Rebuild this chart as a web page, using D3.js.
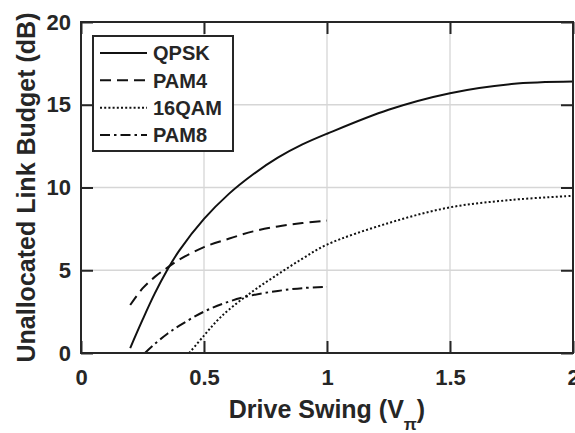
<!DOCTYPE html>
<html><head><meta charset="utf-8">
<script src="https://cdn.jsdelivr.net/npm/d3@7/dist/d3.min.js"></script>
<style>
body{margin:0;background:#fff}
svg{display:block}
text{font-family:"Liberation Sans",Arial,sans-serif;font-weight:bold;fill:#262626}
</style>
</head><body>
<svg id="c" width="575" height="433"></svg>
<script>
// ---- data ----
const xTicks = [0, 0.5, 1, 1.5, 2];
const yTicks = [0, 5, 10, 15, 20];
const seriesNames = ["QPSK", "PAM4", "16QAM", "PAM8"];

const qpskX = [0.2, 0.25, 0.3, 0.35, 0.4, 0.5, 0.6, 0.7, 0.8, 0.9, 1.0, 1.25, 1.5, 1.75, 2.0];
const qpskY = [0.3, 2.0, 3.6, 5.0, 6.2, 8.1, 9.6, 10.8, 11.8, 12.6, 13.25, 14.7, 15.7, 16.25, 16.4];

const pam4X = [0.2, 0.25, 0.3, 0.35, 0.4, 0.5, 0.6, 0.7, 0.8, 0.9, 1.0];
const pam4Y = [2.9, 3.9, 4.6, 5.15, 5.65, 6.4, 6.9, 7.35, 7.65, 7.85, 8.0];

const qam16X = [0.44, 0.5, 0.55, 0.6, 0.7, 0.8, 0.9, 1.0, 1.25, 1.5, 1.75, 2.0];
const qam16Y = [0.0, 1.05, 1.9, 2.6, 3.75, 4.75, 5.7, 6.55, 7.85, 8.8, 9.25, 9.5];

const pam8X = [0.26, 0.3, 0.35, 0.4, 0.5, 0.6, 0.7, 0.8, 0.9, 1.0];
const pam8Y = [0.0, 0.55, 1.15, 1.65, 2.5, 3.1, 3.5, 3.75, 3.92, 4.0];

// ---- layout ----
const svg = d3.select("#c");
const L = 81, R = 573, T = 22, B = 353;
const x = d3.scaleLinear().domain([0, 2]).range([L, R]);
const y = d3.scaleLinear().domain([0, 20]).range([B, T]);
const ink = "#262626";

// grid
svg.append("g").selectAll("line").data(xTicks).join("line")
  .attr("x1", d => x(d)).attr("x2", d => x(d)).attr("y1", T).attr("y2", B)
  .attr("stroke", "#d6d6d6").attr("stroke-width", 1.3);
svg.append("g").selectAll("line").data(yTicks).join("line")
  .attr("y1", d => y(d)).attr("y2", d => y(d)).attr("x1", L).attr("x2", R)
  .attr("stroke", "#d6d6d6").attr("stroke-width", 1.3);

// series
const series = [
  {name: seriesNames[0], xs: qpskX, ys: qpskY, dash: null},
  {name: seriesNames[1], xs: pam4X, ys: pam4Y, dash: "11,6"},
  {name: seriesNames[2], xs: qam16X, ys: qam16Y, dash: "2,2.2"},
  {name: seriesNames[3], xs: pam8X, ys: pam8Y, dash: "10,4,2.5,4"}
];
const line = d3.line().x(d => x(d[0])).y(d => y(d[1])).curve(d3.curveCatmullRom.alpha(0.5));
series.forEach(s => {
  svg.append("path")
    .datum(s.xs.map((v, i) => [v, s.ys[i]]))
    .attr("d", line)
    .attr("fill", "none").attr("stroke", "#111")
    .attr("stroke-width", 2)
    .attr("stroke-dasharray", s.dash);
});

// axes
const fmt = d3.format("~g");
const gx = svg.append("g").attr("transform", `translate(0,${B})`)
  .call(d3.axisBottom(x).tickValues(xTicks).tickSizeInner(-12).tickSizeOuter(0).tickPadding(16).tickFormat(fmt));
const gy = svg.append("g").attr("transform", `translate(${L},0)`)
  .call(d3.axisLeft(y).tickValues(yTicks).tickSizeInner(-12).tickSizeOuter(0).tickPadding(10).tickFormat(fmt));
const gt = svg.append("g").attr("transform", `translate(0,${T})`)
  .call(d3.axisTop(x).tickValues(xTicks).tickSizeInner(-12).tickSizeOuter(0).tickFormat(""));
const gr = svg.append("g").attr("transform", `translate(${R},0)`)
  .call(d3.axisRight(y).tickValues(yTicks).tickSizeInner(-12).tickSizeOuter(0).tickFormat(""));
[gx, gy, gt, gr].forEach(g => {
  g.select(".domain").remove();
  g.selectAll(".tick line").attr("stroke", ink).attr("stroke-width", 2);
  g.selectAll("text").attr("font-size", 22).attr("fill", ink)
    .style("font-family", '"Liberation Sans",Arial,sans-serif').style("font-weight", "bold");
});

// box
svg.append("rect").attr("x", L).attr("y", T).attr("width", R - L).attr("height", B - T)
  .attr("fill", "none").attr("stroke", ink).attr("stroke-width", 2);

// axis titles
const xt = svg.append("text").attr("x", (L + R) / 2).attr("y", 418)
  .attr("text-anchor", "middle").attr("font-size", 25);
xt.append("tspan").text("Drive Swing (V");
xt.append("tspan").attr("dy", 12).attr("font-size", 17).text("π");
xt.append("tspan").attr("dy", -12).text(")");

svg.append("text").attr("transform", `translate(35,${(T + B) / 2}) rotate(-90)`)
  .attr("text-anchor", "middle").attr("font-size", 25)
  .text("Unallocated Link Budget (dB)");

// legend
const lg = svg.append("g");
lg.append("rect").attr("x", 93).attr("y", 36).attr("width", 140).attr("height", 115)
  .attr("fill", "#fff").attr("stroke", ink).attr("stroke-width", 2);
const rowY = d3.scalePoint().domain(seriesNames).range([53, 135]);
series.forEach(s => {
  const yy = rowY(s.name);
  lg.append("line").attr("x1", 100).attr("x2", 147).attr("y1", yy).attr("y2", yy)
    .attr("stroke", "#111").attr("stroke-width", 2).attr("stroke-dasharray", s.dash);
  lg.append("text").attr("x", 153).attr("y", yy).attr("dy", "0.36em")
    .attr("font-size", 20).text(s.name);
});
</script>
</body></html>
